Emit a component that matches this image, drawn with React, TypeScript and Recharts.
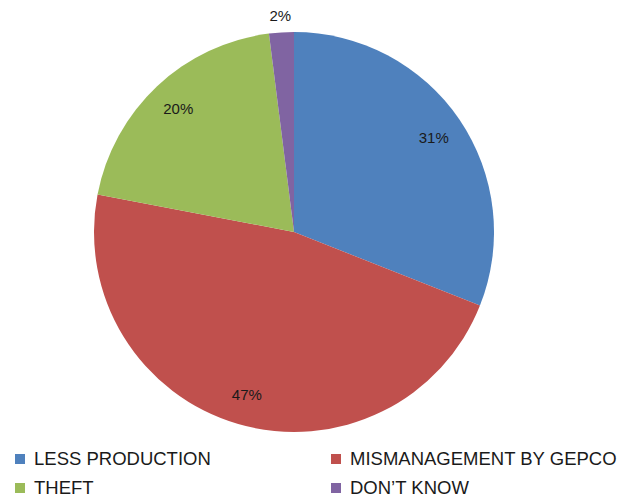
import React from 'react';
import { PieChart, Pie, Cell, Legend } from 'recharts';

const categories = ['LESS PRODUCTION', 'MISMANAGEMENT BY GEPCO', 'THEFT', 'DON\u2019T KNOW'];
const shares = [31, 47, 20, 2];
const colors = ['#4F81BD', '#C0504D', '#9BBB59', '#8064A2'];

const data = categories.map((name, i) => ({ name, value: shares[i] }));

const RADIAN = Math.PI / 180;

// small slices get their label outside the pie, others sit inside
const renderLabel = (props: any) => {
  const { cx, cy, midAngle, outerRadius, value } = props;
  const r = value < 5 ? outerRadius + 17 : outerRadius * 0.845;
  const x = cx + r * Math.cos(-midAngle * RADIAN);
  const y = cy + r * Math.sin(-midAngle * RADIAN);
  return (
    <text
      x={x}
      y={y}
      fill="#1a1a1a"
      textAnchor="middle"
      dominantBaseline="central"
      fontSize={15}
      fontFamily="Liberation Sans, Arial, sans-serif"
    >
      {`${value}%`}
    </text>
  );
};

const renderLegend = () => (
  <div
    style={{
      display: 'grid',
      gridTemplateColumns: '318px 317px',
      rowGap: 8,
      fontFamily: 'Liberation Sans, Arial, sans-serif',
      fontSize: 18.5,
      color: '#1a1a1a',
    }}
  >
    {categories.map((name, i) => (
      <div
        key={name}
        style={{
          display: 'flex',
          alignItems: 'center',
          paddingLeft: i % 2 === 0 ? 15 : 13,
          height: 21,
        }}
      >
        <span
          style={{
            display: 'inline-block',
            width: 10,
            height: 10,
            background: colors[i],
            marginRight: 9,
          }}
        />
        <span>{name}</span>
      </div>
    ))}
  </div>
);

export default function App() {
  return (
    <div style={{ position: 'absolute', left: 0, top: 0, background: '#fff' }}>
      <PieChart width={635} height={500} margin={{ top: 0, right: 0, bottom: 0, left: 0 }}>
        <Pie
          data={data}
          dataKey="value"
          nameKey="name"
          cx={294}
          cy={232}
          outerRadius={200}
          startAngle={90}
          endAngle={-270}
          stroke="none"
          label={renderLabel}
          labelLine={false}
          isAnimationActive={false}
        >
          {data.map((d, i) => (
            <Cell key={d.name} fill={colors[i]} />
          ))}
        </Pie>
        <Legend
          content={renderLegend}
          wrapperStyle={{ position: 'absolute', left: 0, top: 448, width: 635 }}
        />
      </PieChart>
    </div>
  );
}
